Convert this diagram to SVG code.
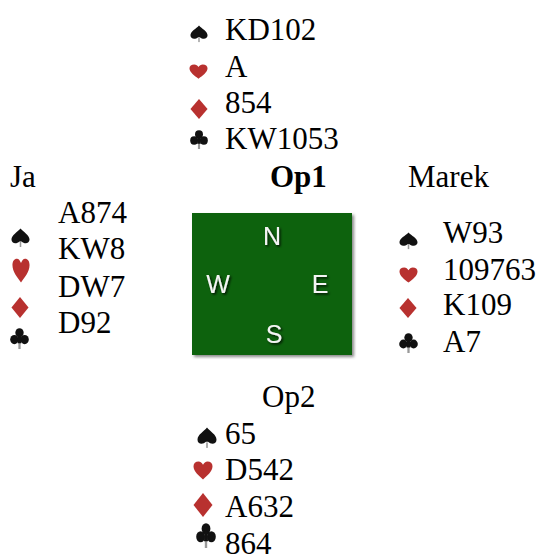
<svg xmlns="http://www.w3.org/2000/svg" width="540" height="554" viewBox="0 0 540 554">
<style>
.t{font-family:"Liberation Serif","Times New Roman",serif;font-size:31px;fill:#000}
.b{font-weight:bold}
.c{font-family:"Liberation Sans",Arial,sans-serif;font-size:25px;fill:#f4f4f4;text-anchor:middle;filter:url(#sh)}
.blk{fill:#111}
.red{fill:#b8312f}
.stem{fill:#999}
</style>
<defs>
<filter id="sh" x="-30%" y="-30%" width="160%" height="160%">
<feDropShadow dx="1.5" dy="1.5" stdDeviation="1" flood-color="#000" flood-opacity="0.8"/>
</filter>
<filter id="bs" x="-10%" y="-10%" width="130%" height="130%">
<feDropShadow dx="2" dy="2" stdDeviation="1.5" flood-color="#555" flood-opacity="0.7"/>
</filter>
<symbol id="sp" viewBox="0 0 20 20" preserveAspectRatio="none"><rect class="stem" x="9.2" y="14" width="1.6" height="5"/><path class="blk" d="M10,0.5 C7,4 0.5,7 0.5,11.5 C0.5,15.5 5.5,16.5 9,13.5 L11,13.5 C14.5,16.5 19.5,15.5 19.5,11.5 C19.5,7 13,4 10,0.5 Z"/></symbol>
<symbol id="he" viewBox="0 0 20 20" preserveAspectRatio="none"><path class="red" d="M10,19.5 C6,15.5 0.5,11 0.5,5.5 C0.5,2.5 2.5,0.5 5.5,0.5 C7.5,0.5 9,2 10,4 C11,2 12.5,0.5 14.5,0.5 C17.5,0.5 19.5,2.5 19.5,5.5 C19.5,11 14,15.5 10,19.5 Z"/></symbol>
<symbol id="di" viewBox="0 0 20 20" preserveAspectRatio="none"><path class="red" d="M10,0 L19.5,10 L10,20 L0.5,10 Z"/></symbol>
<symbol id="cl" viewBox="0 0 20 20" preserveAspectRatio="none"><rect class="stem" x="8.8" y="12" width="2.4" height="8"/><g class="blk"><circle cx="10" cy="4.6" r="4.4"/><circle cx="4.6" cy="11" r="4.4"/><circle cx="15.4" cy="11" r="4.4"/><path d="M8.5,6 L11.5,6 L12,14.5 L8,14.5 Z"/></g></symbol>
</defs>

<g id="north">
<use href="#sp" x="190" y="25" width="18" height="18"/>
<text class="t" x="225" y="40">KD102</text>
<use href="#he" x="189" y="64" width="19" height="15"/>
<text class="t" x="225" y="77">A</text>
<use href="#di" x="190" y="99" width="18" height="20"/>
<text class="t" x="225" y="113">854</text>
<use href="#cl" x="190" y="130" width="18" height="19"/>
<text class="t" x="225" y="149">KW1053</text>
</g>

<g id="west">
<text class="t" x="10" y="187">Ja</text>
<text class="t" x="58" y="223">A874</text>
<use href="#sp" x="11" y="228" width="19" height="20"/>
<text class="t" x="58" y="259">KW8</text>
<use href="#he" x="12" y="258" width="18" height="25"/>
<text class="t" x="58" y="297">DW7</text>
<use href="#di" x="11" y="297" width="18" height="21"/>
<text class="t" x="58" y="333">D92</text>
<use href="#cl" x="10" y="328" width="19" height="21"/>
</g>

<g id="table">
<text class="t b" x="270" y="187">Op1</text>
<rect x="192" y="213" width="160" height="142" fill="#0e620e" filter="url(#bs)"/>
<text class="c" x="272" y="245">N</text>
<text class="c" x="218" y="293">W</text>
<text class="c" x="320" y="293">E</text>
<text class="c" x="274" y="343">S</text>
</g>

<g id="east">
<text class="t" x="408" y="187">Marek</text>
<use href="#sp" x="399" y="232" width="19" height="18"/>
<text class="t" x="443" y="243">W93</text>
<use href="#he" x="399" y="267" width="19" height="16"/>
<text class="t" x="443" y="280">109763</text>
<use href="#di" x="399" y="298" width="18" height="20"/>
<text class="t" x="443" y="315">K109</text>
<use href="#cl" x="399" y="333" width="19" height="20"/>
<text class="t" x="443" y="352">A7</text>
</g>

<g id="south">
<text class="t" x="262" y="407">Op2</text>
<use href="#sp" x="197" y="427" width="20" height="22"/>
<text class="t" x="225" y="444">65</text>
<use href="#he" x="193" y="461" width="20" height="19"/>
<text class="t" x="225" y="480">D542</text>
<use href="#di" x="193" y="493" width="20" height="24"/>
<text class="t" x="225" y="517">A632</text>
<use href="#cl" x="196" y="523" width="20" height="25"/>
<text class="t" x="225" y="554">864</text>
</g>
</svg>
